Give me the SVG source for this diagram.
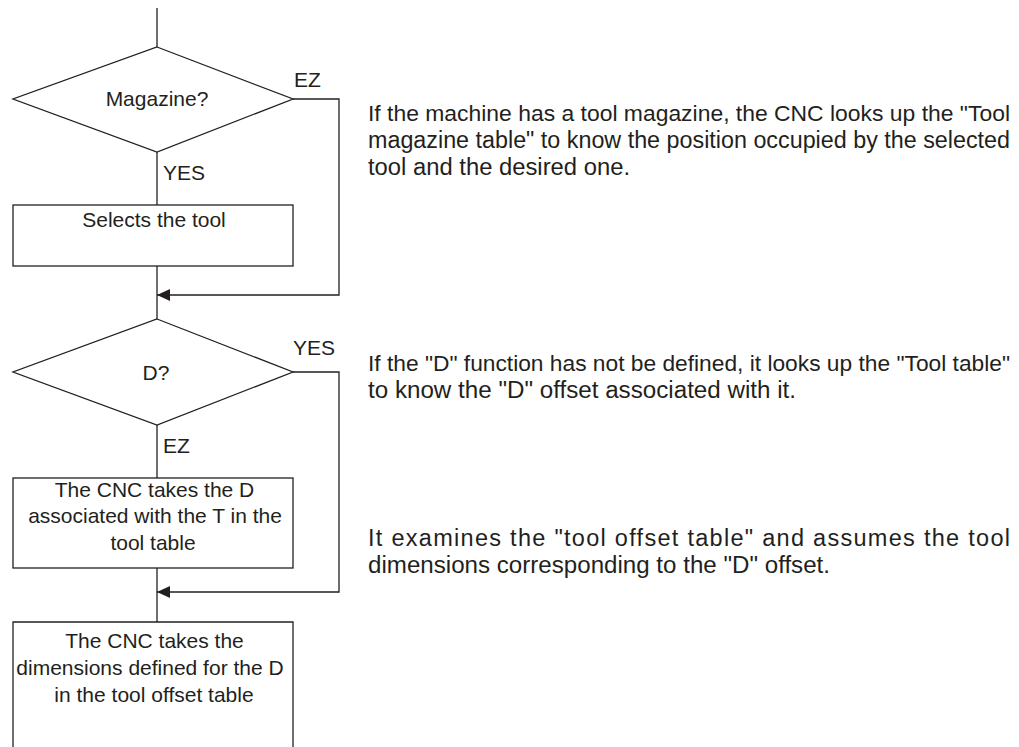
<svg xmlns="http://www.w3.org/2000/svg" width="1019" height="747" viewBox="0 0 1019 747">
  <defs>
    <style>
      .shape { fill: #ffffff; stroke: #231f20; stroke-width: 1.3; }
      .line { fill: none; stroke: #231f20; stroke-width: 1.3; }
      .t { font-family: "Liberation Sans", Arial, Helvetica, sans-serif; font-size: 21px; fill: #231f20; }
      .c { text-anchor: middle; }
      .p { font-family: "Liberation Sans", Arial, Helvetica, sans-serif; font-size: 23.5px; fill: #231f20; }
      .pw { font-size: 22.5px; }
    </style>
    <marker id="arrow" viewBox="0 0 13 12" refX="13" refY="6" markerWidth="13" markerHeight="12" markerUnits="userSpaceOnUse" orient="auto">
      <path d="M0,0 L13,6 L0,12 Z" fill="#231f20"/>
    </marker>
  </defs>

  <g id="connectors">
    <line class="line" x1="157" y1="8" x2="157" y2="47"/>
    <line class="line" x1="157" y1="152" x2="157" y2="205"/>
    <polyline class="line" points="293,99 339,99 339,295 157,295" marker-end="url(#arrow)"/>
    <line class="line" x1="157" y1="266" x2="157" y2="319"/>
    <line class="line" x1="157" y1="425" x2="157" y2="478"/>
    <polyline class="line" points="293,372 339,372 339,592 157,592" marker-end="url(#arrow)"/>
    <line class="line" x1="157" y1="568" x2="157" y2="622"/>
    <text class="t" x="294" y="87">EZ</text>
    <text class="t" x="163" y="180">YES</text>
    <text class="t" x="293" y="355">YES</text>
    <text class="t" x="163" y="453">EZ</text>
  </g>

  <g id="magazine">
    <polygon class="shape" points="157,47 293,99 157,152 13,99"/>
    <text class="t c" x="157" y="106">Magazine?</text>
  </g>

  <g id="selects">
    <rect class="shape" x="13" y="205" width="280" height="61"/>
    <text class="t c" x="154" y="227">Selects the tool</text>
  </g>

  <g id="d-decision">
    <polygon class="shape" points="157,319 293,372 157,425 13,372"/>
    <text class="t c" x="156" y="380">D?</text>
  </g>

  <g id="takes-d">
    <rect class="shape" x="13" y="478" width="280" height="90"/>
    <text class="t c" x="154.5" y="497">The CNC takes the D</text>
    <text class="t c" x="155" y="523">associated with the T in the</text>
    <text class="t c" x="153" y="550">tool table</text>
  </g>

  <g id="takes-dims">
    <path class="line" d="M13,747 L13,622 L293,622 L293,747"/>
    <text class="t c" x="154.5" y="648">The CNC takes the</text>
    <text class="t c" x="150" y="675">dimensions defined for the D</text>
    <text class="t c" x="154" y="702">in the tool offset table</text>
  </g>

  <g id="notes">
    <text class="p pw" x="368" y="121" textLength="642" lengthAdjust="spacingAndGlyphs">If the machine has a tool magazine, the CNC looks up the "Tool</text>
    <text class="p" x="368" y="148" textLength="642" lengthAdjust="spacingAndGlyphs">magazine table" to know the position occupied by the selected</text>
    <text class="p" x="368" y="175" textLength="262" lengthAdjust="spacingAndGlyphs">tool and the desired one.</text>
    <text class="p pw" x="368" y="371" textLength="642" lengthAdjust="spacingAndGlyphs">If the "D" function has not be defined, it looks up the "Tool table"</text>
    <text class="p" x="368" y="398" textLength="428" lengthAdjust="spacingAndGlyphs">to know the "D" offset associated with it.</text>
    <text class="p" x="368" y="546" textLength="642">It examines the "tool offset table" and assumes the tool</text>
    <text class="p" x="368" y="573" textLength="462" lengthAdjust="spacingAndGlyphs">dimensions corresponding to the "D" offset.</text>
  </g>
</svg>
